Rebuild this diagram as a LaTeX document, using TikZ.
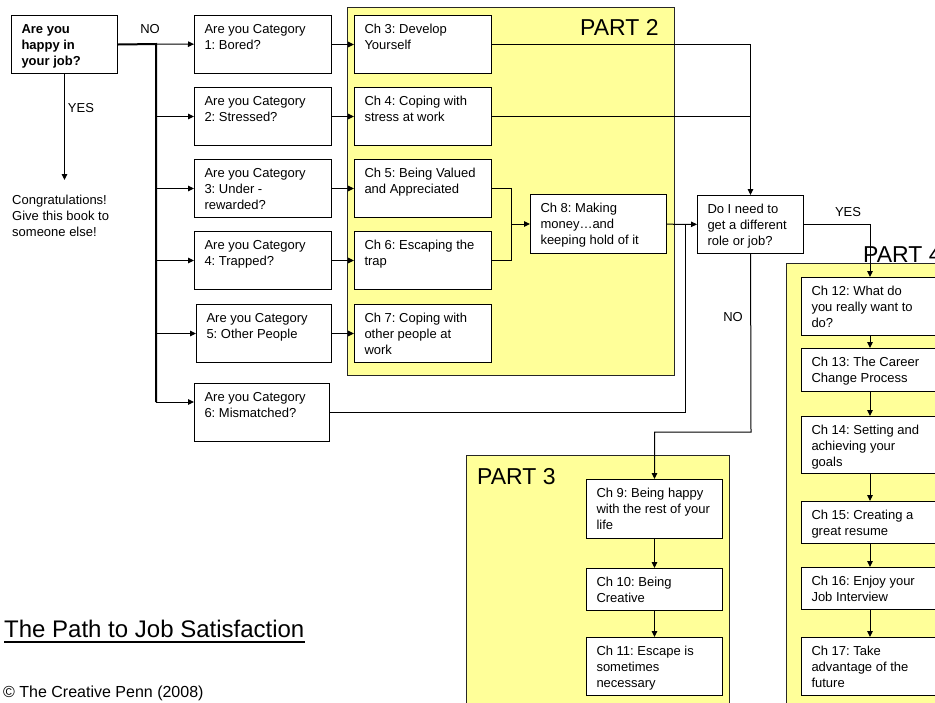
\documentclass[tikz,border=0pt]{standalone}
\usepackage{fontspec}
\setmainfont{Liberation Sans}
\usepackage{xcolor}
\usetikzlibrary{arrows.meta}
\usetikzlibrary{positioning}
\frenchspacing
\definecolor{partyellow}{RGB}{255,255,153}
\tikzstyle{qnode}=[black, draw=black, line width=1pt, shape=rectangle, fill=white, inner xsep=10pt, inner ysep=0pt, anchor=north west, font=\fontsize{13}{16}\selectfont]
\tikzstyle{partnode}=[draw=black!85, line width=0.8pt, shape=rectangle, fill=partyellow, inner sep=0pt, anchor=north west]
\tikzstyle{parttitle}=[inner sep=0pt, anchor=base west, font=\fontsize{23}{23}\selectfont]
\tikzstyle{plaintext}=[inner sep=0pt, font=\fontsize{13}{16}\selectfont, align=left]
\tikzstyle{flow}=[-{Triangle[length=6pt, width=5.5pt]}, line width=1pt, color=black]
\tikzstyle{link}=[line width=1pt, color=black]
\tikzstyle{trunk}=[line width=2pt, color=black]
\newcommand{\celltext}[3]{\parbox[c][#2][t]{#1}{\raggedright\rule{0pt}{18pt}#3}}

\begin{document}
\begin{tikzpicture}[x=1pt, y=-1pt]
\useasboundingbox (0,0) rectangle (935,702);
\clip (0,0) rectangle (935,702);
\fill[white] (0,0) rectangle (935,702);

% yellow parts
\node [partnode, minimum width=327pt, minimum height=368pt] (part2) at (347,7) {};
\node [partnode, minimum width=263pt, minimum height=260pt] (part3) at (466,455) {};
\node [partnode, minimum width=200pt, minimum height=460pt] (part4) at (786,263) {};
\node [parttitle] (part2title) at (580,35) {PART 2};
\node [parttitle] (part3title) at (477,484) {PART 3};

% questions
\node [qnode] (happy) at (11,15) {\celltext{86pt}{58pt}{\bfseries Are you\\happy in\\your job?}};
\node [qnode] (cat1) at (194,15) {\celltext{117pt}{58pt}{Are you Category\\1: Bored?}};
\node [qnode] (cat2) at (194,87) {\celltext{117pt}{58pt}{Are you Category\\2: Stressed?}};
\node [qnode] (cat3) at (194,159) {\celltext{117pt}{58pt}{Are you Category\\3: Under -\\rewarded?}};
\node [qnode] (cat4) at (194,231) {\celltext{117pt}{58pt}{Are you Category\\4: Trapped?}};
\node [qnode] (cat5) at (196,304) {\celltext{115pt}{58pt}{Are you Category\\5: Other People}};
\node [qnode] (cat6) at (194,383) {\celltext{115pt}{58pt}{Are you Category\\6: Mismatched?}};
\node [qnode] (roleq) at (697,195) {\celltext{86pt}{58pt}{Do I need to\\get a different\\role or job?}};

% chapters
\node [qnode] (ch3) at (354,15) {\celltext{117pt}{58pt}{Ch 3: Develop\\Yourself}};
\node [qnode] (ch4) at (354,87) {\celltext{117pt}{58pt}{Ch 4: Coping with\\stress at work}};
\node [qnode] (ch5) at (354,159) {\celltext{117pt}{58pt}{Ch 5: Being Valued\\and Appreciated}};
\node [qnode] (ch6) at (354,231) {\celltext{117pt}{58pt}{Ch 6: Escaping the\\trap}};
\node [qnode] (ch7) at (354,304) {\celltext{117pt}{58pt}{Ch 7: Coping with\\other people at\\work}};
\node [qnode] (ch8) at (530,194) {\celltext{116pt}{59pt}{Ch 8: Making\\money\ldots and\\keeping hold of it}};
\node [qnode] (ch9) at (586,479) {\celltext{116pt}{59pt}{Ch 9: Being happy\\with the rest of your\\life}};
\node [qnode] (ch10) at (586,568) {\celltext{116pt}{42pt}{Ch 10: Being\\Creative}};
\node [qnode] (ch11) at (586,637) {\celltext{116pt}{58pt}{Ch 11: Escape is\\sometimes\\necessary}};
\node [qnode] (ch12) at (801,277) {\celltext{117pt}{58pt}{Ch 12: What do\\you really want to\\do?}};
\node [qnode] (ch13) at (801,348) {\celltext{117pt}{43pt}{Ch 13: The Career\\Change Process}};
\node [qnode] (ch14) at (801,416) {\celltext{117pt}{57pt}{Ch 14: Setting and\\achieving your\\goals}};
\node [qnode] (ch15) at (801,501) {\celltext{117pt}{42pt}{Ch 15: Creating a\\great resume}};
\node [qnode] (ch16) at (801,567) {\celltext{117pt}{42pt}{Ch 16: Enjoy your\\Job Interview}};
\node [qnode] (ch17) at (801,637) {\celltext{117pt}{58pt}{Ch 17: Take\\advantage of the\\future}};
\node [parttitle] (part4title) at (863,262) {PART 4};

% free texts
\node [plaintext, anchor=north west] (congrats) at (12,195) {Congratulations!\\Give this book to\\someone else!};
\node [plaintext] (nolabel1) at (150,29) {NO};
\node [plaintext] (yeslabel1) at (81,108) {YES};
\node [plaintext] (yeslabel2) at (848,212) {YES};
\node [plaintext] (nolabel2) at (733,317) {NO};
\node [inner sep=0pt, anchor=base west, font=\fontsize{24}{24}\selectfont] (title) at (4,637) {The Path to Job Satisfaction};
\node [inner sep=0pt, anchor=base west, font=\fontsize{16}{16}\selectfont] (copyright) at (3,697) {© The Creative Penn (2008)};
\draw[line width=1.6pt] ([yshift=-5pt]title.base west) -- ([yshift=-5pt]title.base east);

% connectors
\coordinate (trunktop) at (156,44);
\coordinate (trunkend) at (156,402);
\coordinate (moneyjoin) at (511,224);
\coordinate (rolejoin) at (685,224);
\coordinate (nobend) at (751,432);
\draw[trunk] (happy.east) -- (trunktop) -- (trunkend);
\draw[flow, shorten >=15pt] (happy) -- (happy |- congrats.north);
\draw[flow] (trunktop) -- (cat1);
\draw[flow] (trunktop |- cat2) -- (cat2);
\draw[flow] (trunktop |- cat3) -- (cat3);
\draw[flow] (trunktop |- cat4) -- (cat4);
\draw[flow] (trunktop |- cat5) -- (cat5);
\draw[flow] (trunkend) -- (trunkend -| cat6.west);
\draw[flow] (cat1) -- (ch3);
\draw[flow] (cat2) -- (ch4);
\draw[flow] (cat3) -- (ch5);
\draw[flow] (cat4) -- (ch6);
\draw[flow] (cat5) -- (ch7);
\draw[link] (ch5) -| (moneyjoin);
\draw[link] (ch6) -| (moneyjoin);
\draw[flow] (moneyjoin) -- (ch8);
\draw[flow] (ch8) -- (roleq);
\draw[link] (cat6) -| (rolejoin);
\draw[flow] (ch3) -| (roleq.north);
\draw[link] (ch4) -- (ch4 -| roleq.north);
\draw[flow] (roleq) -| (ch12);
\draw[flow] (roleq) -- (nobend) -| (ch9);
\draw[flow] (ch9) -- (ch10);
\draw[flow] (ch10) -- (ch11);
\draw[flow] (ch12) -- (ch13);
\draw[flow] (ch13) -- (ch14);
\draw[flow] (ch14) -- (ch15);
\draw[flow] (ch15) -- (ch16);
\draw[flow] (ch16) -- (ch17);
\end{tikzpicture}
\end{document}
